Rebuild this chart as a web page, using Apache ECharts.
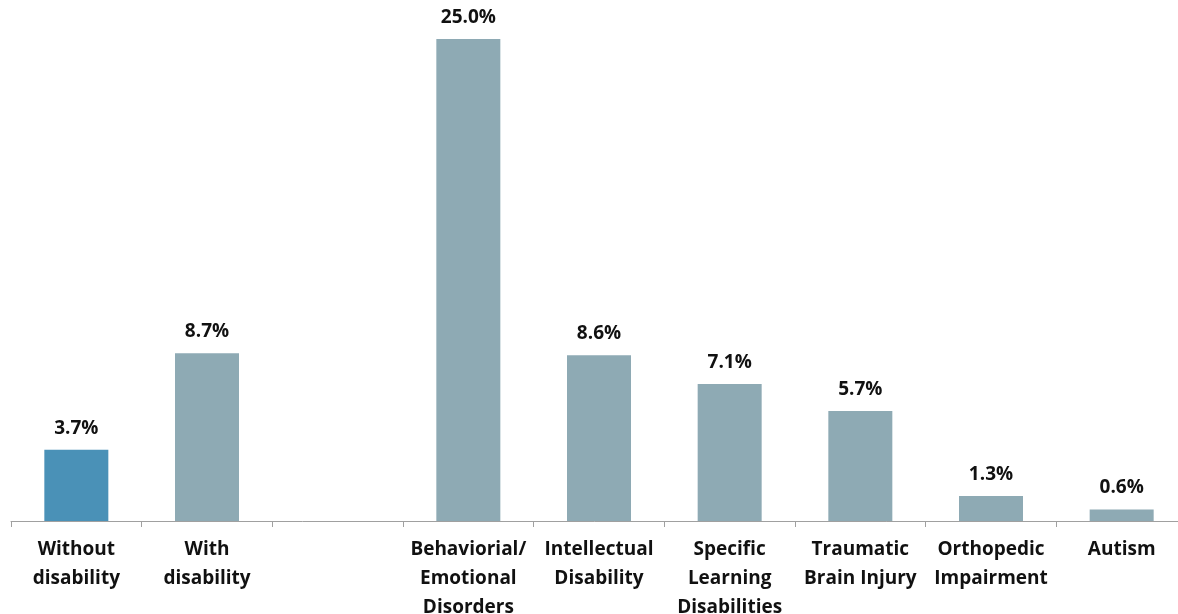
<!DOCTYPE html>
<html>
<head>
<meta charset="utf-8">
<script src="https://cdn.jsdelivr.net/npm/echarts@6/dist/echarts.min.js"></script>
<style>
html,body{margin:0;padding:0;background:#fff;}
#chart{width:1178px;height:614px;}
</style>
</head>
<body>
<div id="chart"></div>
<script>
const categories = ["Without\ndisability", "With\ndisability", "", "Behaviorial/\nEmotional\nDisorders", "Intellectual\nDisability", "Specific\nLearning\nDisabilities", "Traumatic\nBrain Injury", "Orthopedic\nImpairment", "Autism"];
const values = [3.7, 8.7, null, 25.0, 8.6, 7.1, 5.7, 1.3, 0.6];
const highlightIndex = 0;

const chart = echarts.init(document.getElementById('chart'));
const fontFamily = '"Open Sans", "Noto Sans", sans-serif';
chart.setOption({
  animation: false,
  backgroundColor: '#ffffff',
  grid: { left: 11, top: 39, width: 1176, height: 482, containLabel: false, outerBoundsMode: 'none' },
  xAxis: {
    type: 'category',
    data: categories,
    boundaryGap: true,
    axisLine: { lineStyle: { color: '#a0a0a0', width: 1 } },
    axisTick: { show: true, length: 6, lineStyle: { color: '#a0a0a0' } },
    axisLabel: {
      interval: 0,
      margin: 14,
      color: '#111111',
      fontFamily: fontFamily,
      fontWeight: 'bold',
      fontSize: 19,
      lineHeight: 29,
      align: 'center'
    }
  },
  yAxis: {
    type: 'value',
    min: 0,
    max: 25,
    show: false,
    splitLine: { show: false }
  },
  series: [{
    type: 'bar',
    barWidth: 64,
    data: values.map((v, i) => ({
      value: v,
      itemStyle: { color: i === highlightIndex ? '#4a91b7' : '#8eaab4' }
    })),
    label: {
      show: true,
      position: 'top',
      distance: 12,
      color: '#111111',
      fontFamily: fontFamily,
      fontWeight: 'bold',
      fontSize: 19,
      formatter: p => p.value == null ? '' : p.value.toFixed(1) + '%'
    }
  }]
});
</script>
</body>
</html>
